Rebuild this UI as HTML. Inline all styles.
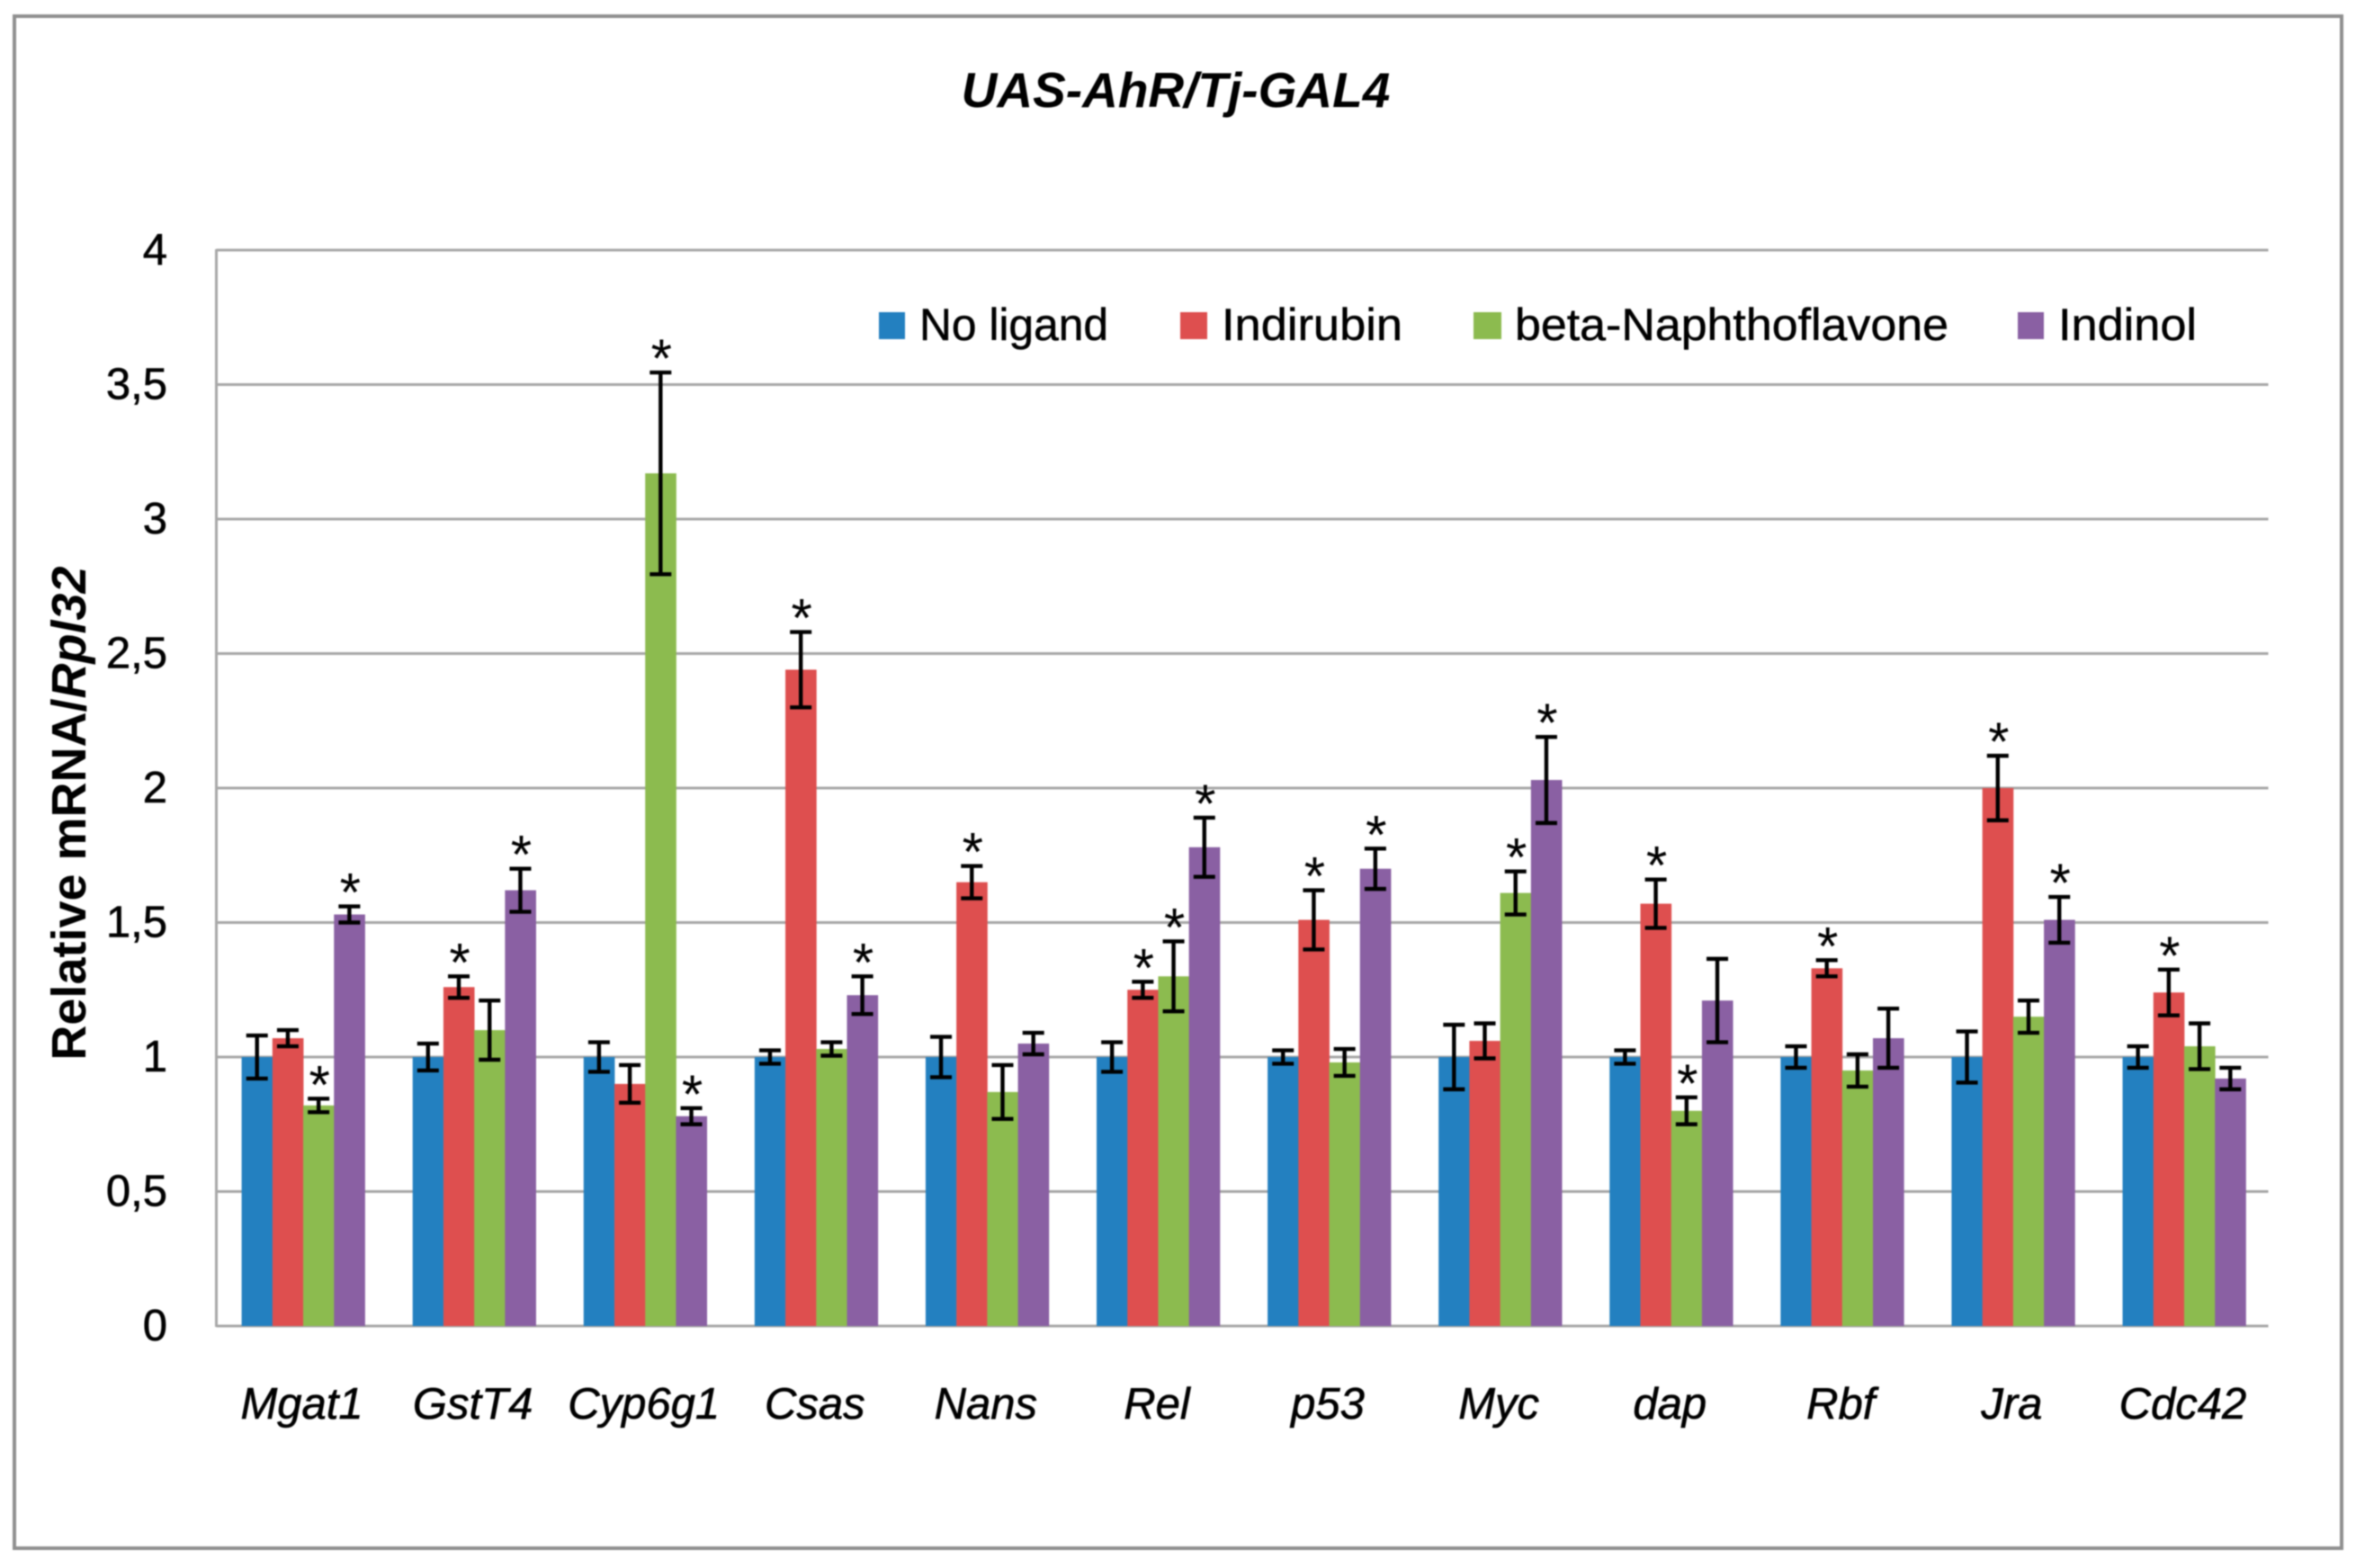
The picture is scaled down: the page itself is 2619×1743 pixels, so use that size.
<!DOCTYPE html>
<html>
<head>
<meta charset="utf-8">
<title>UAS-AhR/Tj-GAL4</title>
<style>
html,body{margin:0;padding:0;background:#fff;width:2619px;height:1743px;overflow:hidden}
svg{display:block;font-family:"Liberation Sans",sans-serif;filter:blur(0.8px)}
</style>
</head>
<body>
<svg id="chart" xmlns="http://www.w3.org/2000/svg" width="2619" height="1743" viewBox="0 0 2619 1743">
  <rect x="0" y="0" width="2619" height="1743" fill="#ffffff"/>
  <rect x="16" y="18" width="2587" height="1703" fill="#ffffff" stroke="#8f8f8f" stroke-width="4"/>
  <text x="1307" y="119" text-anchor="middle" font-size="55" font-weight="bold" font-style="italic" fill="#000">UAS-AhR/Tj-GAL4</text>
  <text transform="translate(95 904) rotate(-90)" text-anchor="middle" font-size="54" font-weight="bold" fill="#000">Relative mRNA/<tspan font-style="italic">Rpl32</tspan></text>
  <g id="grid"></g>
  <g id="yticks" stroke="#000" stroke-width="0.6"></g>
  <g id="bars"></g>
  <g id="errors"></g>
  <g id="stars"></g>
  <g id="xlabels" stroke="#000" stroke-width="0.6"></g>
  <g font-size="50" fill="#000" stroke="#000" stroke-width="0.5">
    <g>
      <rect x="977" y="347" width="29" height="30" fill="#2380c0" stroke="none"/>
      <text x="1022" y="378" textLength="210" lengthAdjust="spacingAndGlyphs">No ligand</text>
    </g>
    <g>
      <rect x="1312" y="347" width="30" height="30" fill="#de4f4f" stroke="none"/>
      <text x="1358" y="378" textLength="201" lengthAdjust="spacingAndGlyphs">Indirubin</text>
    </g>
    <g>
      <rect x="1638" y="347" width="31" height="30" fill="#8cbb4f" stroke="none"/>
      <text x="1684" y="378" textLength="482" lengthAdjust="spacingAndGlyphs">beta-Naphthoflavone</text>
    </g>
    <g>
      <rect x="2243" y="347" width="29" height="30" fill="#8a60a3" stroke="none"/>
      <text x="2288" y="378" textLength="154" lengthAdjust="spacingAndGlyphs">Indinol</text>
    </g>
  </g>
</svg>
<script>
const categories = ["Mgat1","GstT4","Cyp6g1","Csas","Nans","Rel","p53","Myc","dap","Rbf","Jra","Cdc42"];
const seriesNames = ["No ligand","Indirubin","beta-Naphthoflavone","Indinol"];
const noLigand = [1,1,1,1,1,1,1,1,1,1,1,1];
const indirubin = [1.07,1.26,0.9,2.44,1.65,1.25,1.51,1.06,1.57,1.33,2.0,1.24];
const betaNaphthoflavone = [0.82,1.10,3.17,1.03,0.87,1.30,0.98,1.61,0.80,0.95,1.15,1.04];
const indinol = [1.53,1.62,0.78,1.23,1.05,1.78,1.70,2.03,1.21,1.07,1.51,0.92];
const noLigandErr = [0.08,0.05,0.055,0.025,0.075,0.055,0.025,0.12,0.025,0.04,0.095,0.04];
const indirubinErr = [0.03,0.04,0.07,0.14,0.06,0.03,0.11,0.065,0.09,0.03,0.12,0.085];
const betaNaphthoflavoneErr = [0.025,0.11,0.375,0.025,0.10,0.13,0.05,0.08,0.05,0.06,0.06,0.085];
const indinolErr = [0.03,0.08,0.03,0.07,0.04,0.11,0.075,0.16,0.155,0.11,0.085,0.04];
const noLigandSig = [0,0,0,0,0,0,0,0,0,0,0,0];
const indirubinSig = [0,1,0,1,1,1,1,0,1,1,1,1];
const betaNaphthoflavoneSig = [1,0,1,0,0,1,0,1,1,0,0,0];
const indinolSig = [1,1,1,1,0,1,1,1,0,0,1,0];
const yTickValues = [0,0.5,1,1.5,2,2.5,3,3.5,4];
const yTickLabels = ["0","0,5","1","1,5","2","2,5","3","3,5","4"];

const NS = "http://www.w3.org/2000/svg";
const plotLeft = 240.5, plotRight = 2521.5, plotBottom = 1474, plotTop = 278, yMax = 4;
const seriesColors = ["#2380c0","#de4f4f","#8cbb4f","#8a60a3"];
const seriesValues = [noLigand, indirubin, betaNaphthoflavone, indinol];
const seriesErrors = [noLigandErr, indirubinErr, betaNaphthoflavoneErr, indinolErr];
const seriesSig = [noLigandSig, indirubinSig, betaNaphthoflavoneSig, indinolSig];
const slug = s => s.toLowerCase().replace(/[^a-z0-9]+/g, "-");
const yScale = v => plotBottom - (v / yMax) * (plotBottom - plotTop);
const bandWidth = (plotRight - plotLeft) / categories.length;
const barWidth = bandWidth * 0.18;
const groupWidth = barWidth * seriesNames.length;
const barX = (c, s) => plotLeft + 1.5 + bandWidth * c + (bandWidth - groupWidth) / 2 + s * barWidth;
const make = (tag, attrs) => {
  const el = document.createElementNS(NS, tag);
  for (const k in attrs) el.setAttribute(k, attrs[k]);
  return el;
};

const grid = document.getElementById("grid");
const yticks = document.getElementById("yticks");
yTickValues.forEach((v, i) => {
  const y = yScale(v);
  const line = make("line", {x1: plotLeft, x2: plotRight, y1: y, y2: y, stroke: "#a8a8a8", "stroke-width": 3});
  
  
  grid.appendChild(line);
  const t = make("text", {x: 186, y: y + 16, "text-anchor": "end", "font-size": 49, fill: "#000"});
  
  
  t.textContent = yTickLabels[i];
  yticks.appendChild(t);
});
const yAxisLine = make("line", {x1: plotLeft, x2: plotLeft, y1: plotTop - 1, y2: plotBottom + 1, stroke: "#a8a8a8", "stroke-width": 3});


grid.appendChild(yAxisLine);

const bars = document.getElementById("bars");
const errors = document.getElementById("errors");
const stars = document.getElementById("stars");
const xlabels = document.getElementById("xlabels");
categories.forEach((cat, c) => {
  seriesNames.forEach((name, s) => {
    const v = seriesValues[s][c];
    const e = seriesErrors[s][c];
    const x = barX(c, s);
    const cx = x + barWidth / 2;
    const bar = make("rect", {x: x, y: yScale(v), width: barWidth + 0.4, height: plotBottom - yScale(v), fill: seriesColors[s]});
    
    
    bars.appendChild(bar);
    const top = yScale(v + e), bottom = yScale(v - e);
    const err = make("path", {d: `M${cx - 12} ${top}H${cx + 12}M${cx} ${top}V${bottom}M${cx - 12} ${bottom}H${cx + 12}`, fill: "none", stroke: "#000", "stroke-width": 4.4});
    
    
    errors.appendChild(err);
    if (seriesSig[s][c]) {
      const star = make("text", {x: cx + 1, y: top + 5, "text-anchor": "middle", "font-size": 60, fill: "#000"});
      
      
      star.textContent = "*";
      stars.appendChild(star);
    }
  });
  const lab = make("text", {x: plotLeft + bandWidth * (c + 0.5), y: 1577, "text-anchor": "middle", "font-size": 49, "font-style": "italic", fill: "#000"});
  
  
  lab.textContent = cat;
  xlabels.appendChild(lab);
});
</script>
</body>
</html>
